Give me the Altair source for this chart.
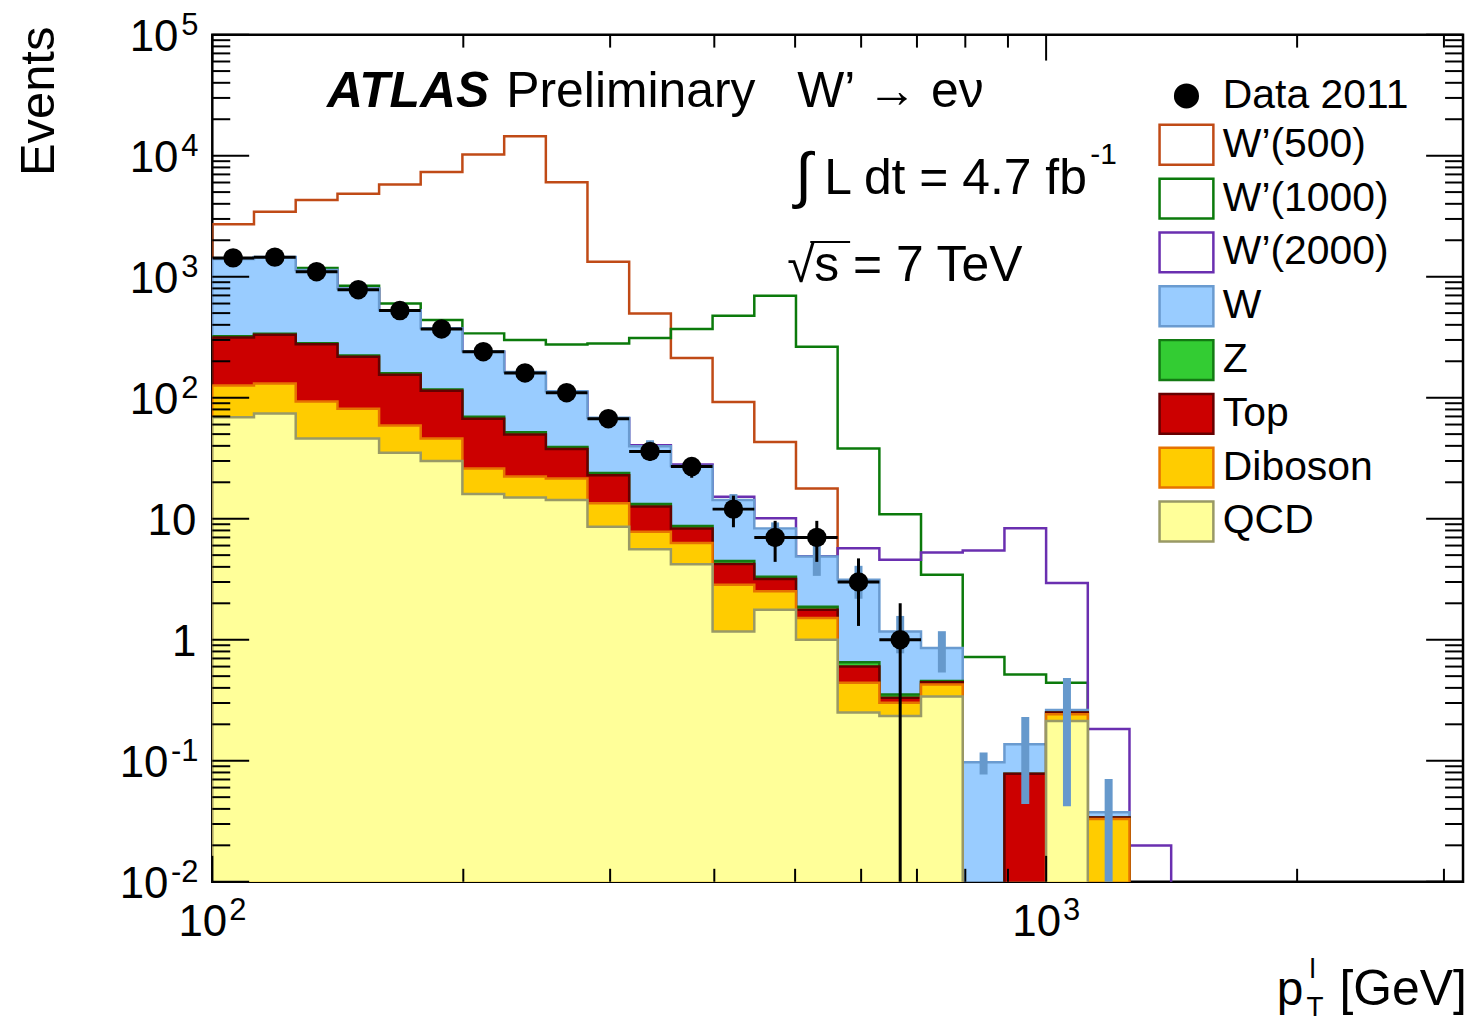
import altair as alt
import numpy as np
import pandas as pd

FONT = "Liberation Sans"

# ---------------- data ----------------
# bin edges in GeV (log-uniform bins)
edges = [100.0, 112.2, 125.9, 141.3, 158.5, 177.8, 199.5, 223.9, 251.2, 281.8,
         316.2, 354.8, 398.1, 446.7, 501.2, 562.3, 631.0, 707.9, 794.3, 891.3,
         1000.0, 1122.0, 1258.9, 1412.5]

# Data 2011 (bins 0..16)
data_counts = [1430, 1450, 1100, 780, 525, 370, 240, 160, 110, 67, 36, 27, 12, 7, 7, 3, 1]
data_err = [38, 38, 33, 28, 23, 19, 15.5, 12.6, 10.5, 8.2, 6.0, 5.2, 3.5, 2.6, 2.6, 1.7, 1.0]

# backgrounds per bin (bins 0..21)
qcd = [69, 74, 46, 46, 35, 30, 16, 15, 14.3, 8.6, 5.6, 4.2, 1.17, 1.77, 1.0, 0.25, 0.234, 0.34, 0, 0, 0.213, 0]
diboson = [57, 57, 47, 35, 24, 16, 10, 7.3, 7.2, 4.8, 2.2, 2.1, 1.68, 0.74, 0.51, 0.19, 0.068, 0.086, 0, 0, 0.029, 0.033]
top = [188, 200, 183, 137, 96, 68, 41, 27.4, 16.2, 9.5, 4.8, 2.0, 1.37, 0.66, 0.26, 0.16, 0.03, 0.02, 0, 0.078, 0.008, 0.001]
zjets = [8, 7, 6, 5, 4, 3, 2.5, 2, 1.5, 1.0, 0.6, 0.4, 0.25, 0.15, 0.1, 0.05, 0.02, 0.01, 0, 0, 0, 0]
wjets = [1081, 1114, 852, 577, 370, 257, 172, 111, 74, 44.5, 26.5, 18.5, 9.8, 5.0, 3.0, 2.48, 0.82, 0.40, 0.097, 0.059, 0.012, 0.0035]
syst = [170, 175, 135, 95, 64, 45, 29, 19.5, 13.5, 8.2, 4.8, 3.3, 1.7, 1.0, 1.5, 0.95, 0.4, 0.32, 0.02, 0.093, 0.22, 0.033]

# signal + background totals
wp500 = [2716, 3441, 4295, 4840, 5786, 7345, 10210, 14450, 6040, 1326, 497, 213, 92, 43.1, 17.8]
wp1000 = [1390, 1440, 1177, 841, 601, 438, 340, 300, 275, 281, 311, 370, 476, 695, 264, 38.0, 10.9, 3.44, 0.72, 0.516, 0.441]
wp2000 = [1390, 1440, 1125, 795, 527, 372, 239, 160, 111, 67.5, 40.5, 28, 15.2, 10.1, 4.9, 5.71, 4.57, 5.25, 5.45, 8.34, 2.94, 0.183, 0.0199]

legend_labels = ["Data 2011", "W\u2019(500)", "W\u2019(1000)", "W\u2019(2000)", "W", "Z", "Top", "Diboson", "QCD"]

# axis tick values and tick labels
y_major = [0.01, 0.1, 1, 10, 100, 1000, 10000, 100000]
y_label_base = ["10", "10", "1", "10", "10", "10", "10", "10"]
y_label_exp = ["-2", "-1", "", "", "2", "3", "4", "5"]
x_major = [100, 1000]
x_label_base = ["10", "10"]
x_label_exp = ["2", "3"]
x_minor = [200, 300, 400, 500, 600, 700, 800, 900, 2000, 3000]
y_minor = [m * 10.0 ** k for k in range(-2, 5) for m in range(2, 10)]

# ---------------- styles ----------------
C_W, C_W_L = "#99ccff", "#6a9bd0"
C_Z, C_Z_L = "#33cc33", "#137a13"
C_TOP, C_TOP_L = "#cc0000", "#660000"
C_DIB, C_DIB_L = "#ffcc00", "#e67300"
C_QCD, C_QCD_L = "#ffff99", "#999966"
C_500, C_1000, C_2000 = "#c04a16", "#0b7a0b", "#6a2fb0"
C_SYST = "#6699cc"
FLOOR = 1e-4
W, H = 1255, 850

xscale = alt.Scale(type="log", domain=[100, 3162.28], nice=False)
yscale = alt.Scale(type="log", domain=[0.01, 100000], nice=False)


def X(f):
    return alt.X(f"{f}:Q", scale=xscale, axis=None)


def Y(f):
    return alt.Y(f"{f}:Q", scale=yscale, axis=None)


def clean(v):
    return v if v > 0 else FLOOR


def step_line(vals, color, width):
    n = len(vals)
    xs = [edges[0]] + [edges[k] for k in range(n)] + [edges[n], edges[n]]
    ys = [FLOOR] + [clean(v) for v in vals] + [clean(vals[-1]), FLOOR]
    df = pd.DataFrame({"x": xs, "y": ys, "i": list(range(len(xs)))})
    return alt.Chart(df).mark_line(interpolate="step-after", color=color, strokeWidth=width,
                                   clip=True).encode(x=X("x"), y=Y("y"), order="i:Q")


def step_area(vals, color):
    n = len(vals)
    xs = [edges[k] for k in range(n)] + [edges[n]]
    ys = [clean(v) for v in vals] + [clean(vals[-1])]
    df = pd.DataFrame({"x": xs, "y": ys, "y0": [FLOOR] * len(xs)})
    return alt.Chart(df).mark_area(interpolate="step-after", color=color, opacity=1,
                                   clip=True).encode(x=X("x"), y=Y("y"), y2="y0")


# cumulative stack
cum_qcd = np.array(qcd, float)
cum_dib = cum_qcd + np.array(diboson)
cum_top = cum_dib + np.array(top)
cum_z = cum_top + np.array(zjets)
cum_w = cum_z + np.array(wjets)

layers = []
# signals (behind the stack)
layers.append(step_line(wp500, C_500, 2.5))
layers.append(step_line(wp1000, C_1000, 2.5))
layers.append(step_line(wp2000, C_2000, 2.5))

# stack: biggest first
for vals, fc, lc in [(cum_w, C_W, C_W_L), (cum_z, C_Z, C_Z_L), (cum_top, C_TOP, C_TOP_L),
                     (cum_dib, C_DIB, C_DIB_L), (cum_qcd, C_QCD, C_QCD_L)]:
    v = list(vals)
    layers.append(step_area(v, fc))
    layers.append(step_line(v, lc, 2.5))

# systematic bars
nb = len(cum_w)
centers = [float(np.sqrt(edges[k] * edges[k + 1])) for k in range(nb)]
sdf = pd.DataFrame({"c": centers,
                    "lo": [max(cum_w[k] - syst[k], FLOOR) for k in range(nb)],
                    "hi": [cum_w[k] + syst[k] for k in range(nb)]})
layers.append(alt.Chart(sdf).mark_rule(color=C_SYST, strokeWidth=8, clip=True)
              .encode(x=X("c"), y=Y("lo"), y2="hi"))

# data
nd = len(data_counts)
ddf = pd.DataFrame({"c": centers[:nd], "lo": edges[:nd], "hi": edges[1:nd + 1],
                    "n": data_counts,
                    "nlo": [max(data_counts[k] - data_err[k], FLOOR) for k in range(nd)],
                    "nhi": [data_counts[k] + data_err[k] for k in range(nd)]})
layers.append(alt.Chart(ddf).mark_rule(color="black", strokeWidth=3, clip=True)
              .encode(x=X("lo"), x2="hi", y=Y("n")))
layers.append(alt.Chart(ddf).mark_rule(color="black", strokeWidth=3, clip=True)
              .encode(x=X("c"), y=Y("nlo"), y2="nhi"))
layers.append(alt.Chart(ddf).mark_circle(color="black", size=380, opacity=1)
              .encode(x=X("c"), y=Y("n")))


# inward ticks (ROOT style) on all four sides
def yticks(vals, length):
    d = pd.DataFrame({"v": vals})
    a = alt.Chart(d).mark_rule(color="black", strokeWidth=2).encode(
        y=Y("v"), x=alt.value(0), x2=alt.value(length))
    b = alt.Chart(d).mark_rule(color="black", strokeWidth=2).encode(
        y=Y("v"), x=alt.value(W), x2=alt.value(W - length))
    return [a, b]


def xticks(vals, length):
    d = pd.DataFrame({"v": vals})
    a = alt.Chart(d).mark_rule(color="black", strokeWidth=2).encode(
        x=X("v"), y=alt.value(H), y2=alt.value(H - length))
    b = alt.Chart(d).mark_rule(color="black", strokeWidth=2).encode(
        x=X("v"), y=alt.value(0), y2=alt.value(length))
    return [a, b]


layers += yticks(y_major, 37) + yticks(y_minor, 18) + xticks(x_major, 26) + xticks(x_minor, 13)

# tick labels with real superscripts
ylab = pd.DataFrame({"v": y_major, "base": y_label_base, "exp": y_label_exp})
ylab_pos = ylab[ylab["exp"].str.match(r"^\d$")]
ylab_neg = ylab[ylab["exp"].str.startswith("-")]
ylab_none = ylab[ylab["exp"] == ""]
LBL = dict(font=FONT, color="black", baseline="middle", align="right")
layers.append(alt.Chart(ylab_pos).mark_text(fontSize=44, dy=3, **LBL).encode(
    y=Y("v"), x=alt.value(-34), text="base:N"))
layers.append(alt.Chart(ylab_neg).mark_text(fontSize=44, dy=3, **LBL).encode(
    y=Y("v"), x=alt.value(-44), text="base:N"))
layers.append(alt.Chart(ylab_none).mark_text(fontSize=44, dy=3, **LBL).encode(
    y=Y("v"), x=alt.value(-16), text="base:N"))
layers.append(alt.Chart(pd.concat([ylab_pos, ylab_neg])).mark_text(fontSize=31, dy=-9, **LBL).encode(
    y=Y("v"), x=alt.value(-14), text="exp:N"))

xlab = pd.DataFrame({"v": x_major, "base": x_label_base, "exp": x_label_exp})
layers.append(alt.Chart(xlab).mark_text(fontSize=44, font=FONT, color="black", align="right",
                                        baseline="alphabetic", dx=15).encode(
    x=X("v"), y=alt.value(904), text="base:N"))
layers.append(alt.Chart(xlab).mark_text(fontSize=31, font=FONT, color="black", align="left",
                                        baseline="alphabetic", dx=17).encode(
    x=X("v"), y=alt.value(888), text="exp:N"))

# texts
one = pd.DataFrame({"a": [0]})


def txt(s, x, y, size, **kw):
    return alt.Chart(one).mark_text(text=s, fontSize=size, font=FONT, align=kw.pop("align", "left"),
                                    baseline=kw.pop("baseline", "alphabetic"), color="black",
                                    **kw).encode(x=alt.value(x), y=alt.value(y))


layers.append(txt("ATLAS", 115, 73, 50, fontWeight="bold", fontStyle="italic"))
layers.append(txt("Preliminary", 295, 73, 50))
layers.append(txt("W\u2019 \u2192 e\u03bd", 587, 73, 50))
layers.append(txt("\u222b", 585, 162, 62))
layers.append(txt("L dt = 4.7 fb", 614, 160, 50))
layers.append(txt("-1", 881, 130, 30))
layers.append(txt("\u221a", 577, 248, 50))
layers.append(alt.Chart(one).mark_rule(color="black", strokeWidth=2).encode(
    x=alt.value(600), x2=alt.value(640), y=alt.value(208)))
layers.append(txt("s = 7 TeV", 604, 247, 50))
layers.append(txt("Events", -174, -8, 49, angle=270, align="right", baseline="middle"))
layers.append(txt("p", 1068, 974, 48))
layers.append(txt("l", 1101, 947, 28))
layers.append(txt("T", 1098, 985, 28))
layers.append(txt("[GeV]", 1131, 974, 50))

# legend (built from a hidden layer)
circle_path = "M0.42,0A0.42,0.42,0,1,1,-0.42,0A0.42,0.42,0,1,1,0.42,0Z"
rect_path = "M-1,-0.74L1,-0.74L1,0.74L-1,0.74Z"
leg = alt.Legend(title=None, orient="none", legendX=949, legendY=33, direction="vertical",
                 symbolSize=2916, symbolStrokeWidth=2.5, symbolOpacity=1,
                 labelFont=FONT, labelFontSize=41, labelColor="black", labelOffset=8,
                 labelLimit=600, rowPadding=0, padding=0)
ldf = pd.DataFrame({"label": legend_labels, "x": [1e7] * 9, "y": [1.0] * 9})
fills = ["black", "white", "white", "white", C_W, C_Z, C_TOP, C_DIB, C_QCD]
strokes = ["black", C_500, C_1000, C_2000, C_W_L, C_Z_L, C_TOP_L, C_DIB_L, C_QCD_L]
shapes = [circle_path] + [rect_path] * 8
layers.append(alt.Chart(ldf).mark_point(filled=True, opacity=1, clip=True).encode(
    x=X("x"), y=Y("y"),
    fill=alt.Fill("label:N", scale=alt.Scale(domain=legend_labels, range=fills), legend=leg),
    stroke=alt.Stroke("label:N", scale=alt.Scale(domain=legend_labels, range=strokes), legend=leg),
    shape=alt.Shape("label:N", scale=alt.Scale(domain=legend_labels, range=shapes), legend=leg),
))

chart = alt.layer(*layers).properties(
    width=W, height=H,
    padding={"left": 205, "top": 25, "right": 5, "bottom": 143},
    autosize=alt.AutoSizeParams(type="none"),
    background="white",
).configure_view(stroke="black", strokeWidth=2.5)

chart.save("out.html", embed_options={"renderer": "svg", "actions": False})
